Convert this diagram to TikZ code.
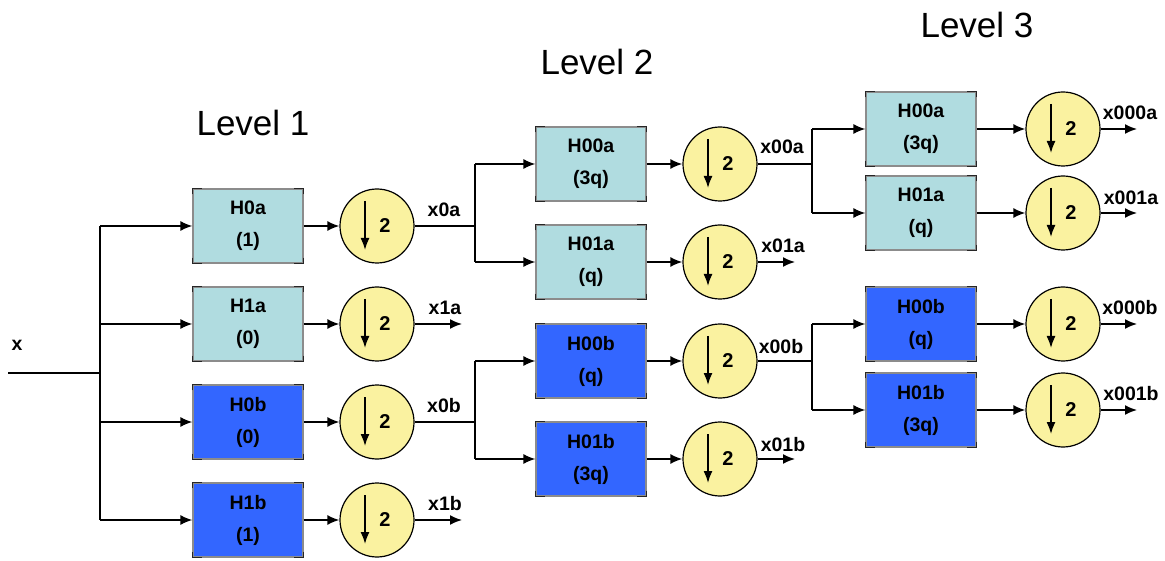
\documentclass[tikz,border=0pt]{standalone}
\usepackage{fontspec}
\setmainfont{Liberation Sans}
\usetikzlibrary{arrows.meta,calc}
\definecolor{lightbox}{RGB}{176,220,224}
\definecolor{darkbox}{RGB}{51,102,255}
\definecolor{decfill}{RGB}{250,242,160}
\tikzset{
  x=1pt,y=-1pt,
  conn/.style={line width=1.7pt},
  arr/.style={conn,-{Latex[length=12pt,width=10pt]}},
  filt/.style={rectangle,minimum width=110pt,minimum height=74pt,inner sep=0pt,
     draw=black!45,line width=1.1pt,align=center,
     font=\fontsize{19.5}{32}\selectfont\bfseries},
  lbox/.style={filt,fill=lightbox},
  dbox/.style={filt,fill=darkbox},
  corner/.style={line width=1.8pt,draw=black!85},
  dec/.style={circle,minimum size=74pt,inner sep=0pt,draw=black,line width=1.2pt,fill=decfill,
     font=\fontsize{20}{22}\selectfont\bfseries,
     path picture={\draw[line width=1.6pt,-{Latex[length=12pt,width=9pt]}]
       ([xshift=-12pt,yshift=25pt]path picture bounding box.center) --
       ([xshift=-12pt,yshift=-24pt]path picture bounding box.center);}},
  sig/.style={font=\fontsize{19.5}{22}\selectfont\bfseries},
  title/.style={font=\fontsize{35}{38}\selectfont}
}
\begin{document}
\begin{tikzpicture}
\useasboundingbox (0,0) rectangle (1165,561);
% titles
\node[title] (t1) at (253,123) {Level 1};
\node[title] (t2) at (597,62) {Level 2};
\node[title] (t3) at (977,25) {Level 3};
% input
\node[sig] (xl) at (17,345) {x};
\coordinate (xin) at (8,373);
\coordinate (j1) at (100,373);
% level 1
\node[lbox] (H0a) at (248,226) {H0a\\(1)};
\node[lbox] (H1a) at (248,324) {H1a\\(0)};
\node[dbox] (H0b) at (248,422) {H0b\\(0)};
\node[dbox] (H1b) at (248,520) {H1b\\(1)};
\node[dec] (D0a) at (377,226) {\hspace*{16pt}2};
\node[dec] (D1a) at (377,324) {\hspace*{16pt}2};
\node[dec] (D0b) at (377,422) {\hspace*{16pt}2};
\node[dec] (D1b) at (377,520) {\hspace*{16pt}2};
% level 2
\node[lbox] (H00a) at (591,164) {H00a\\(3q)};
\node[lbox] (H01a) at (591,262) {H01a\\(q)};
\node[dbox] (H00b) at (591,361) {H00b\\(q)};
\node[dbox] (H01b) at (591,459) {H01b\\(3q)};
\node[dec] (D00a) at (720,164) {\hspace*{16pt}2};
\node[dec] (D01a) at (720,262) {\hspace*{16pt}2};
\node[dec] (D00b) at (720,361) {\hspace*{16pt}2};
\node[dec] (D01b) at (720,459) {\hspace*{16pt}2};
% level 3
\node[lbox] (H000a) at (921,129) {H00a\\(3q)};
\node[lbox] (H001a) at (921,213) {H01a\\(q)};
\node[dbox] (H000b) at (921,324) {H00b\\(q)};
\node[dbox] (H001b) at (921,410) {H01b\\(3q)};
\node[dec] (D000a) at (1063,129) {\hspace*{16pt}2};
\node[dec] (D001a) at (1063,213) {\hspace*{16pt}2};
\node[dec] (D000b) at (1063,324) {\hspace*{16pt}2};
\node[dec] (D001b) at (1063,410) {\hspace*{16pt}2};
% corner marks on the filter boxes
\foreach \n in {H0a,H1a,H0b,H1b,H00a,H01a,H00b,H01b,H000a,H001a,H000b,H001b}{
  \draw[corner] ([yshift=-6pt]\n.north west) -- (\n.north west) -- ([xshift=10pt]\n.north west);
  \draw[corner] ([yshift=-6pt]\n.north east) -- (\n.north east) -- ([xshift=-10pt]\n.north east);
  \draw[corner] ([yshift=6pt]\n.south west) -- (\n.south west) -- ([xshift=10pt]\n.south west);
  \draw[corner] ([yshift=6pt]\n.south east) -- (\n.south east) -- ([xshift=-10pt]\n.south east);
}
% junctions and free ends
\coordinate (j2a) at (475,226);
\coordinate (j2b) at (475,422);
\coordinate (o1a) at (462,324);
\coordinate (o1b) at (462,520);
\coordinate (j3a) at (812,164);
\coordinate (j3b) at (812,361);
\coordinate (o01a) at (795,262);
\coordinate (o01b) at (795,459);
\coordinate (o000a) at (1137,129);
\coordinate (o001a) at (1137,213);
\coordinate (o000b) at (1137,324);
\coordinate (o001b) at (1137,410);
% connectors level 1
\draw[conn] (xin) -- (j1);
\draw[conn] (j1 |- H0a) -- (j1 |- H1b);
\foreach \b in {H0a,H1a,H0b,H1b} \draw[arr] (j1 |- \b) -- (\b);
\draw[arr] (H0a) -- (D0a);
\draw[arr] (H1a) -- (D1a);
\draw[arr] (H0b) -- (D0b);
\draw[arr] (H1b) -- (D1b);
\draw[conn] (D0a) -- (j2a);
\draw[arr] (D1a) -- (o1a);
\draw[conn] (D0b) -- (j2b);
\draw[arr] (D1b) -- (o1b);
% connectors level 2
\draw[conn] (j2a |- H00a) -- (j2a |- H01a);
\draw[arr] (j2a |- H00a) -- (H00a);
\draw[arr] (j2a |- H01a) -- (H01a);
\draw[conn] (j2b |- H00b) -- (j2b |- H01b);
\draw[arr] (j2b |- H00b) -- (H00b);
\draw[arr] (j2b |- H01b) -- (H01b);
\draw[arr] (H00a) -- (D00a);
\draw[arr] (H01a) -- (D01a);
\draw[arr] (H00b) -- (D00b);
\draw[arr] (H01b) -- (D01b);
\draw[conn] (D00a) -- (j3a);
\draw[arr] (D01a) -- (o01a);
\draw[conn] (D00b) -- (j3b);
\draw[arr] (D01b) -- (o01b);
% connectors level 3
\draw[conn] (j3a |- H000a) -- (j3a |- H001a);
\draw[arr] (j3a |- H000a) -- (H000a);
\draw[arr] (j3a |- H001a) -- (H001a);
\draw[conn] (j3b |- H000b) -- (j3b |- H001b);
\draw[arr] (j3b |- H000b) -- (H000b);
\draw[arr] (j3b |- H001b) -- (H001b);
\draw[arr] (H000a) -- (D000a);
\draw[arr] (H001a) -- (D001a);
\draw[arr] (H000b) -- (D000b);
\draw[arr] (H001b) -- (D001b);
\draw[arr] (D000a) -- (o000a);
\draw[arr] (D001a) -- (o001a);
\draw[arr] (D000b) -- (o000b);
\draw[arr] (D001b) -- (o001b);
% signal labels
\node[sig] (l0a) at (444,210) {x0a};
\node[sig] (l1a) at (445,308) {x1a};
\node[sig] (l0b) at (444,406) {x0b};
\node[sig] (l1b) at (445,504) {x1b};
\node[sig] (l00a) at (782,147) {x00a};
\node[sig] (l01a) at (783,246) {x01a};
\node[sig] (l00b) at (781,347) {x00b};
\node[sig] (l01b) at (783,445) {x01b};
\node[sig] (l000a) at (1130,113) {x000a};
\node[sig] (l001a) at (1131,198) {x001a};
\node[sig] (l000b) at (1130,308) {x000b};
\node[sig] (l001b) at (1131,394) {x001b};
\end{tikzpicture}
\end{document}
